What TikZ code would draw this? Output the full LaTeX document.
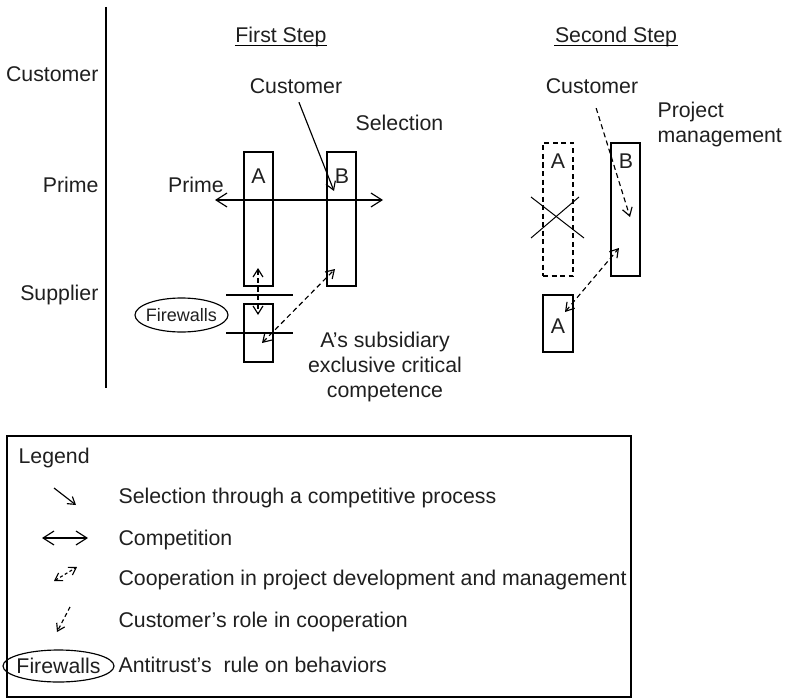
\documentclass[tikz,border=0pt]{standalone}
\usepackage{fontspec}
\setmainfont{Liberation Sans}
\usetikzlibrary{arrows.meta,shapes.geometric}
\begin{document}
\begin{tikzpicture}[x=1pt,y=-1pt,line width=1.15pt,
  every node/.style={font=\fontsize{21.3}{25}\selectfont,inner sep=0pt,text=black!88},
  box/.style={draw,minimum width=29pt,minimum height=#1,inner sep=0pt},
  dsh/.style={dash pattern=on 5pt off 3.5pt},
  tipL/.style={>={Straight Barb[length=11pt,width=14pt]}},
  tipM/.style={>={Straight Barb[length=8pt,width=10pt]}},
  tipS/.style={>={Straight Barb[length=7pt,width=9pt]}},
  fw/.style={draw,ellipse,inner sep=-14pt}]
\useasboundingbox (0,0) rectangle (787,698);
% left axis
\node[anchor=base east] (lcust) at (99,82) {Customer};
\node[anchor=base east] (lprime) at (99,193) {Prime};
\node[anchor=base east] (lsupp) at (99,300) {Supplier};
\draw (106,7) -- (106,388);
% ---------- First step
\node[anchor=base] (step1) at (281,43) {First Step};
\draw[line width=0.9pt] ([yshift=-2.5pt]step1.base west) -- ([yshift=-2.5pt]step1.base east);
\node[anchor=base] (cust1) at (296,94) {Customer};
\node[anchor=base] (sel) at (399.5,131) {Selection};
\node[anchor=base] (prime1) at (196,193) {Prime};
\node[box=134pt] (A1) at (258.5,219) {};
\node[anchor=base] (A1t) at (258.5,183) {A};
\node[box=134pt] (B1) at (341.5,219) {};
\node[anchor=base] (B1t) at (342,183) {B};
\node[box=58pt] (A1s) at (258.5,333) {};
\node[fw,minimum width=93pt,minimum height=34pt,font=\fontsize{18}{20}\selectfont] (fw1) at (181.5,315) {Firewalls};
\draw (226,295) -- (293,295);
\draw (226,333) -- (293,333);
\coordinate (pL) at (215,200);
\coordinate (pR) at (383,200);
\draw[tipL,<->] (pL) -- (pR);
\coordinate (selEnd) at (334,191);
\draw[tipM,->,shorten <=8pt] (cust1.south) -- (selEnd);
\coordinate (fwTop) at (258,268);
\coordinate (fwBot) at (258,315);
\draw[tipM,dsh,<->] (fwTop) -- (fwBot);
\coordinate (subEnd) at (262,343);
\coordinate (bEnd1) at (335,269);
\draw[tipM,dsh,<->] (subEnd) -- (bEnd1);
\node[anchor=north,align=center] (subs) at (385,331) {A's subsidiary\\exclusive critical\\competence};
% ---------- Second step
\node[anchor=base] (step2) at (616,43) {Second Step};
\draw[line width=0.9pt] ([yshift=-2.5pt]step2.base west) -- ([yshift=-2.5pt]step2.base east);
\node[anchor=base] (cust2) at (592,94) {Customer};
\node[anchor=north west,align=left] (pm) at (657,101) {Project\\management};
\node[box=133pt,minimum width=30pt,dsh] (A2) at (558,209.5) {};
\node[anchor=base] (A2t) at (558,168) {A};
\draw[line width=1pt] (531,197) -- (584,238);
\draw[line width=1pt] (531,238) -- (579,197);
\node[box=133pt] (B2) at (625.5,209.5) {};
\node[anchor=base] (B2t) at (626,168) {B};
\node[box=57pt,minimum width=30pt] (A2s) at (558,323.5) {};
\node[anchor=base] (A2st) at (558,333) {A};
\coordinate (pmEnd) at (630,217);
\draw[tipM,dsh,->,shorten <=14pt] (cust2.south) -- (pmEnd);
\coordinate (a2End) at (565,312);
\coordinate (b2End) at (619,248);
\draw[tipM,dsh,<->] (a2End) -- (b2End);
% ---------- Legend
\draw (7,436) rectangle (631,697);
\node[anchor=base west] (leg) at (18,463) {Legend};
\coordinate (s1a) at (54,488);
\coordinate (s1b) at (76,505);
\draw[tipS,->] (s1a) -- (s1b);
\node[anchor=base west] (t1) at (118,503) {Selection through a competitive process};
\coordinate (s2a) at (42,538);
\coordinate (s2b) at (88,538);
\draw[tipL,<->] (s2a) -- (s2b);
\node[anchor=base west] (t2) at (118,545) {Competition};
\coordinate (s3a) at (54,581);
\coordinate (s3b) at (77,567);
\draw[tipS,dash pattern=on 3pt off 2.5pt,<->] (s3a) -- (s3b);
\node[anchor=base west] (t3) at (118,585) {Cooperation in project development and management};
\coordinate (s4a) at (70,607);
\coordinate (s4b) at (57,632);
\draw[tipS,dash pattern=on 4pt off 3pt,->] (s4a) -- (s4b);
\node[anchor=base west] (t4) at (118,627) {Customer's role in cooperation};
\node[fw,minimum width=111pt,minimum height=32pt] (fw2) at (58.5,666) {Firewalls};
\node[anchor=base west] (t5) at (118,672) {Antitrust's\ \ rule on behaviors};
\end{tikzpicture}
\end{document}
